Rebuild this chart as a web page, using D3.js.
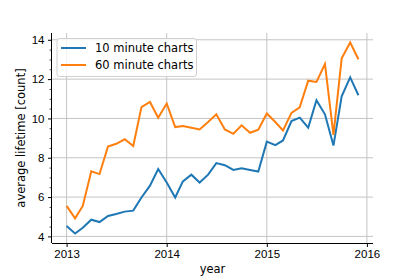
<!DOCTYPE html>
<html>
<head>
<meta charset="utf-8">
<script src="https://cdn.jsdelivr.net/npm/d3@7"></script>
<style>
  body { margin: 0; background: #fff; }
  svg { display: block; font-family: "DejaVu Sans", sans-serif; }
  .axis text { font-size: 11.5px; fill: #000; }
  .axis .domain { stroke: #000; stroke-width: 1; }
  .axis .tick line { stroke: #000; }
</style>
</head>
<body>
<div id="vis"></div>
<script>
const W = 415, H = 277;
const margin = { top: 33, right: 42, bottom: 34, left: 52 };
const width = W - margin.left - margin.right;
const height = H - margin.top - margin.bottom;

// monthly values, Jan 2013 .. Dec 2015
const startYear = 2013;
const seriesNames = ['10 minute charts', '60 minute charts'];
const tenMinute = [4.53, 4.15, 4.44, 4.85, 4.73, 5.04, 5.14, 5.26, 5.31, 5.98, 6.58, 7.43,
  6.74, 5.98, 6.80, 7.14, 6.74, 7.14, 7.73, 7.62, 7.38, 7.46, 7.38, 7.30,
  8.82, 8.64, 8.88, 9.87, 10.04, 9.53, 10.93, 10.21, 8.62, 11.13, 12.09, 11.18];
const sixtyMinute = [5.55, 4.92, 5.55, 7.31, 7.17, 8.57, 8.71, 8.94, 8.60, 10.58, 10.84, 10.04,
  10.76, 9.56, 9.61, 9.53, 9.44, 9.82, 10.21, 9.44, 9.22, 9.65, 9.27, 9.43,
  10.25, 9.82, 9.39, 10.28, 10.56, 11.92, 11.86, 12.77, 9.16, 13.06, 13.86, 13.01];
const xTicks = [2013, 2014, 2015, 2016];
const yTicks = [4, 6, 8, 10, 12, 14];
const colours = ['#1f77b4', '#ff7f0e'];

const data = [tenMinute, sixtyMinute].map((vals, k) => ({
  name: seriesNames[k],
  values: vals.map((v, i) => ({ date: new Date(startYear, i, 1), value: v }))
}));

const svg = d3.select('#vis').append('svg').attr('width', W).attr('height', H);
const plot = svg.append('g').attr('transform', `translate(${margin.left}, ${margin.top})`);

// matplotlib-style 5% padding
const allPts = data.flatMap(d => d.values);
const xExt = d3.extent(allPts, d => d.date);
const xPad = (xExt[1] - xExt[0]) * 0.05;
const yExt = d3.extent(allPts, d => d.value);
const yPad = (yExt[1] - yExt[0]) * 0.05;

const x = d3.scaleTime()
  .domain([new Date(+xExt[0] - xPad), new Date(+xExt[1] + xPad)])
  .range([0, width]);
const y = d3.scaleLinear()
  .domain([yExt[0] - yPad, yExt[1] + yPad])
  .range([height, 0]);

const xTickDates = xTicks.map(yr => new Date(yr, 0, 1));
const yMinor = d3.range(4, 14.01, 0.5).filter(v => v % 2 !== 0);

// grid
plot.append('g').selectAll('line').data(xTickDates).join('line')
  .attr('x1', d => x(d)).attr('x2', d => x(d))
  .attr('y1', 0).attr('y2', height)
  .attr('stroke', '#c4c4c4').attr('stroke-width', 1);
plot.append('g').selectAll('line').data(yTicks).join('line')
  .attr('x1', 0).attr('x2', width)
  .attr('y1', d => y(d)).attr('y2', d => y(d))
  .attr('stroke', '#c4c4c4').attr('stroke-width', 1);

// lines
const line = d3.line()
  .x(d => x(d.date))
  .y(d => y(d.value));

plot.append('g').selectAll('path').data(data).join('path')
  .attr('d', d => line(d.values))
  .attr('fill', 'none')
  .attr('stroke', (d, i) => colours[i])
  .attr('stroke-width', 2)
  .attr('stroke-linejoin', 'miter');

// axes
const xAxis = d3.axisBottom(x).tickValues(xTickDates).tickFormat(d3.timeFormat('%Y'))
  .tickSize(4).tickPadding(3).tickSizeOuter(0);
plot.append('g').attr('class', 'axis x')
  .attr('transform', `translate(0, ${height})`)
  .call(xAxis)
  .call(g => g.select('.domain').attr('d', `M0,0.5H${width}`));

plot.append('g').attr('class', 'axis y-minor')
  .call(d3.axisLeft(y).tickValues(yMinor).tickSize(2.5).tickFormat(''))
  .call(g => g.select('.domain').remove())
  .selectAll('.tick line').attr('stroke', '#000').attr('stroke-width', 0.7);

const yAxis = d3.axisLeft(y).tickValues(yTicks).tickSize(4).tickPadding(3.5).tickSizeOuter(0);
plot.append('g').attr('class', 'axis y')
  .call(yAxis)
  .call(g => g.select('.domain').attr('d', `M-0.5,0V${height}`));

// axis labels
svg.append('text')
  .attr('x', margin.left + width / 2)
  .attr('y', 273)
  .attr('text-anchor', 'middle')
  .attr('font-size', 11.5)
  .text('year');
svg.append('text')
  .attr('transform', `translate(25, ${margin.top + height / 2}) rotate(-90)`)
  .attr('text-anchor', 'middle')
  .attr('font-size', 11.5)
  .text('average lifetime [count]');

// legend
const legend = plot.append('g').attr('transform', 'translate(5, 5.5)');
legend.append('rect')
  .attr('width', 139.5).attr('height', 38)
  .attr('rx', 2.5)
  .attr('fill', 'rgba(255,255,255,0.8)')
  .attr('stroke', '#d0d0d0').attr('stroke-width', 1);
const item = legend.selectAll('.item').data(data).join('g')
  .attr('class', 'item')
  .attr('transform', (d, i) => `translate(0, ${9.5 + i * 17})`);
item.append('line')
  .attr('x1', 4).attr('x2', 29)
  .attr('stroke', (d, i) => colours[i])
  .attr('stroke-width', 2);
item.append('text')
  .attr('x', 38).attr('dy', '0.35em')
  .attr('font-size', 11.5)
  .text(d => d.name);
</script>
</body>
</html>
